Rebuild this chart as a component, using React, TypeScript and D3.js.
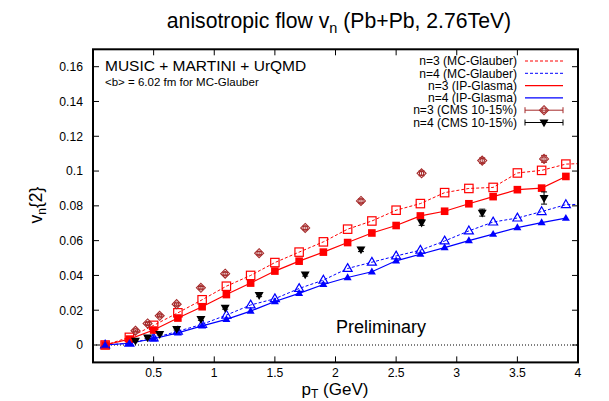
import React from "react";
import * as d3 from "d3";

const W = 609;
const H = 401;

const ptTheory = [0.1, 0.3, 0.5, 0.7, 0.9, 1.1, 1.3, 1.5, 1.7, 1.9, 2.1, 2.3, 2.5, 2.7, 2.9, 3.1, 3.3, 3.5, 3.7, 3.9];
const ptTheoryExt = [...ptTheory, 4.1];

const v3Glauber = [0, 0.0044, 0.0113, 0.0185, 0.026, 0.0338, 0.040, 0.0474, 0.0534, 0.0593, 0.0666, 0.0713, 0.0775, 0.0813, 0.0876, 0.0900, 0.0906, 0.0989, 0.1004, 0.104, 0.1045];
const v4Glauber = [0, 0.001, 0.004, 0.0079, 0.0119, 0.0172, 0.023, 0.0266, 0.0325, 0.0373, 0.044, 0.0476, 0.0512, 0.0545, 0.0598, 0.0656, 0.0707, 0.073, 0.0767, 0.0807, 0.081];
const v3Glasma = [0, 0.0034, 0.0086, 0.0155, 0.022, 0.029, 0.0356, 0.0425, 0.0482, 0.0534, 0.0589, 0.0644, 0.0687, 0.0742, 0.0769, 0.0812, 0.0853, 0.0893, 0.0902, 0.0969];
const v4Glasma = [0, 0.001, 0.0036, 0.007, 0.011, 0.0147, 0.0195, 0.025, 0.0297, 0.0348, 0.0388, 0.0421, 0.0484, 0.0522, 0.056, 0.0600, 0.0637, 0.0675, 0.0704, 0.0729];

const ptCMS = [0.35, 0.45, 0.55, 0.69, 0.89, 1.09, 1.37, 1.75, 2.21, 2.71, 3.21, 3.72];
const v3CMS = [0.0082, 0.0124, 0.0168, 0.0235, 0.0329, 0.041, 0.0528, 0.0673, 0.0828, 0.0987, 0.106, 0.107];
const v3CMSErr = [0.0004, 0.0005, 0.0005, 0.0006, 0.0007, 0.0008, 0.0009, 0.001, 0.0012, 0.0014, 0.0016, 0.002];
const v4CMS = [0.0025, 0.0044, 0.0063, 0.0092, 0.0149, 0.0214, 0.0287, 0.0406, 0.0549, 0.0704, 0.0761, 0.0845];
const v4CMSErr = [0.0004, 0.0005, 0.0005, 0.0006, 0.0007, 0.0008, 0.0009, 0.001, 0.0012, 0.0016, 0.002, 0.0035];

const xTicks = [0.5, 1, 1.5, 2, 2.5, 3, 3.5, 4];
const yTicks = [0, 0.02, 0.04, 0.06, 0.08, 0.1, 0.12, 0.14, 0.16];

const legendLabels = [
  "n=3 (MC-Glauber)",
  "n=4 (MC-Glauber)",
  "n=3 (IP-Glasma)",
  "n=4 (IP-Glasma)",
  "n=3 (CMS 10-15%)",
  "n=4 (CMS 10-15%)",
];

const RED = "#ff0000";
const BLUE = "#0000ff";
const BROWN = "#a52a2a";
const FONT = "'Liberation Sans', Arial, Helvetica, sans-serif";

const L = 93, R = 578, T = 49.3, B = 362.4;
const x = d3.scaleLinear().domain([0, 4]).range([L, R]);
const y = d3.scaleLinear().domain([-0.01, 0.17]).range([B, T]);

const lineGen = d3
  .line<[number, number]>()
  .x((d) => x(d[0]))
  .y((d) => y(d[1]));

function zip(a: number[], b: number[]): [number, number][] {
  return b.map((v, i) => [a[i], v]);
}

const OpenSquare = ({ cx, cy, c }: any) => (
  <rect x={cx - 4.2} y={cy - 4.2} width={8.4} height={8.4} fill="none" stroke={c} strokeWidth={1.2} />
);
const FilledSquare = ({ cx, cy, c }: any) => (
  <rect x={cx - 3.8} y={cy - 3.8} width={7.6} height={7.6} fill={c} />
);
const triPath = (cx: number, cy: number, s: number, down = false) => {
  const h = s * 0.87;
  if (!down)
    return `M${cx},${cy - h * 0.62}L${cx + s / 2},${cy + h * 0.38}L${cx - s / 2},${cy + h * 0.38}Z`;
  return `M${cx},${cy + h * 0.62}L${cx + s / 2},${cy - h * 0.38}L${cx - s / 2},${cy - h * 0.38}Z`;
};
const OpenTri = ({ cx, cy, c }: any) => (
  <path d={triPath(cx, cy, 9)} fill="none" stroke={c} strokeWidth={1.2} />
);
const FilledTri = ({ cx, cy, c }: any) => <path d={triPath(cx, cy, 8)} fill={c} />;
const DiamondCircle = ({ cx, cy, c }: any) => (
  <g fill="none" stroke={c} strokeWidth={1.1}>
    <path d={`M${cx},${cy - 4.5}L${cx + 4.5},${cy}L${cx},${cy + 4.5}L${cx - 4.5},${cy}Z`} />
    <circle cx={cx} cy={cy} r={2.2} />
  </g>
);
const DownTri = ({ cx, cy, c }: any) => (
  <g>
    <path d={triPath(cx, cy, 9, true)} fill={c} />
  </g>
);

const ErrBar = ({ px, v, e, c }: any) => {
  const x0 = x(px);
  const y1 = y(v - e);
  const y2 = y(v + e);
  return (
    <g stroke={c} strokeWidth={1}>
      <line x1={x0} x2={x0} y1={y1} y2={y2} />
      <line x1={x0 - 3} x2={x0 + 3} y1={y1} y2={y1} />
      <line x1={x0 - 3} x2={x0 + 3} y1={y2} y2={y2} />
    </g>
  );
};

export default function App() {
  const legendX = 517;
  const legendY0 = 61;
  const legendDy = 12.3;
  const lx1 = 525, lx2 = 563;

  return (
    <svg
      width={W}
      height={H}
      style={{ position: "absolute", left: 0, top: 0, background: "#fff" }}
      fontFamily={FONT}
    >
      <rect x={0} y={0} width={W} height={H} fill="#fff" />
      <defs>
        <clipPath id="plotclip">
          <rect x={L} y={T} width={R - L} height={B - T} />
        </clipPath>
      </defs>

      {/* title */}
      <text x={339} y={28} fontSize={21.2} textAnchor="middle" fill="#000">
        anisotropic flow v<tspan fontSize={14.5} dy={5}>n</tspan>
        <tspan dy={-5}> (Pb+Pb, 2.76TeV)</tspan>
      </text>

      {/* zero line */}
      <line x1={L} x2={R} y1={y(0)} y2={y(0)} stroke="#000" strokeWidth={1} strokeDasharray="1,2" />

      {/* ticks */}
      {xTicks.map((t) => (
        <g key={"xt" + t}>
          <line x1={x(t)} x2={x(t)} y1={B} y2={B - 6} stroke="#000" />
          <line x1={x(t)} x2={x(t)} y1={T} y2={T + 6} stroke="#000" />
          <text x={x(t)} y={377} fontSize={12.2} textAnchor="middle" fill="#000">
            {t}
          </text>
        </g>
      ))}
      {yTicks.map((t) => (
        <g key={"yt" + t}>
          <line x1={L} x2={L + 6} y1={y(t)} y2={y(t)} stroke="#000" />
          <line x1={R} x2={R - 6} y1={y(t)} y2={y(t)} stroke="#000" />
          <text x={83} y={y(t) + 4.3} fontSize={12.2} textAnchor="end" fill="#000">
            {t}
          </text>
        </g>
      ))}

      {/* data */}
      <g clipPath="url(#plotclip)">
        <path d={lineGen(zip(ptTheoryExt, v3Glauber)) || ""} fill="none" stroke={RED} strokeWidth={1} strokeDasharray="3,2" />
        <path d={lineGen(zip(ptTheoryExt, v4Glauber)) || ""} fill="none" stroke={BLUE} strokeWidth={1} strokeDasharray="3,2" />
        <path d={lineGen(zip(ptTheory, v3Glasma)) || ""} fill="none" stroke={RED} strokeWidth={1.2} />
        <path d={lineGen(zip(ptTheory, v4Glasma)) || ""} fill="none" stroke={BLUE} strokeWidth={1.2} />

        {ptTheory.map((p, i) => (
          <OpenSquare key={"os" + i} cx={x(p)} cy={y(v3Glauber[i])} c={RED} />
        ))}
        {ptTheory.map((p, i) => (
          <OpenTri key={"ot" + i} cx={x(p)} cy={y(v4Glauber[i])} c={BLUE} />
        ))}
        {ptTheory.map((p, i) => (
          <FilledSquare key={"fs" + i} cx={x(p)} cy={y(v3Glasma[i])} c={RED} />
        ))}
        {ptTheory.map((p, i) => (
          <FilledTri key={"ft" + i} cx={x(p)} cy={y(v4Glasma[i])} c={BLUE} />
        ))}

        {ptCMS.map((p, i) => (
          <g key={"c3" + i}>
            <ErrBar px={p} v={v3CMS[i]} e={v3CMSErr[i]} c={BROWN} />
            <DiamondCircle cx={x(p)} cy={y(v3CMS[i])} c={BROWN} />
          </g>
        ))}
        {ptCMS.map((p, i) => (
          <g key={"c4" + i}>
            <ErrBar px={p} v={v4CMS[i]} e={v4CMSErr[i]} c="#000" />
            <DownTri cx={x(p)} cy={y(v4CMS[i])} c="#000" />
          </g>
        ))}
      </g>

      {/* frame */}
      <rect x={L} y={T} width={R - L} height={B - T} fill="none" stroke="#000" strokeWidth={2} />

      {/* annotations */}
      <text x={105} y={70.5} fontSize={15.5} fill="#000">
        MUSIC + MARTINI + UrQMD
      </text>
      <text x={105} y={86} fontSize={11.5} fill="#000">
        &lt;b&gt; = 6.02 fm for MC-Glauber
      </text>
      <text x={381} y={333} fontSize={18} textAnchor="middle" fill="#000">
        Preliminary
      </text>

      {/* legend */}
      {legendLabels.map((lab, i) => {
        const ly = legendY0 + i * legendDy;
        return (
          <g key={"lg" + i}>
            <text x={legendX} y={ly + 4.2} fontSize={12.1} textAnchor="end" fill="#000">
              {lab}
            </text>
            {i === 0 && <line x1={lx1} x2={lx2} y1={ly} y2={ly} stroke={RED} strokeDasharray="3,2" />}
            {i === 1 && <line x1={lx1} x2={lx2} y1={ly} y2={ly} stroke={BLUE} strokeDasharray="3,2" />}
            {i === 2 && <line x1={lx1} x2={lx2} y1={ly} y2={ly} stroke={RED} strokeWidth={1.2} />}
            {i === 3 && <line x1={lx1} x2={lx2} y1={ly} y2={ly} stroke={BLUE} strokeWidth={1.2} />}
            {i === 4 && (
              <g>
                <g stroke={BROWN} strokeWidth={1}>
                  <line x1={lx1} x2={lx2} y1={ly} y2={ly} />
                  <line x1={lx1} x2={lx1} y1={ly - 3} y2={ly + 3} />
                  <line x1={lx2} x2={lx2} y1={ly - 3} y2={ly + 3} />
                </g>
                <DiamondCircle cx={(lx1 + lx2) / 2} cy={ly} c={BROWN} />
              </g>
            )}
            {i === 5 && (
              <g>
                <g stroke="#000" strokeWidth={1}>
                  <line x1={lx1} x2={lx2} y1={ly} y2={ly} />
                  <line x1={lx1} x2={lx1} y1={ly - 3} y2={ly + 3} />
                  <line x1={lx2} x2={lx2} y1={ly - 3} y2={ly + 3} />
                </g>
                <DownTri cx={(lx1 + lx2) / 2} cy={ly} c="#000" />
              </g>
            )}
          </g>
        );
      })}

      {/* axis labels */}
      <text transform="translate(42,205) rotate(-90)" fontSize={17.5} textAnchor="middle" fill="#000">
        v<tspan fontSize={12} dy={4}>n</tspan>
        <tspan dy={-4}>{"{2}"}</tspan>
      </text>
      <text x={335} y={395} fontSize={17} textAnchor="middle" fill="#000">
        p<tspan fontSize={12} dy={2.5}>T</tspan>
        <tspan dy={-2.5}> (GeV)</tspan>
      </text>
    </svg>
  );
}
